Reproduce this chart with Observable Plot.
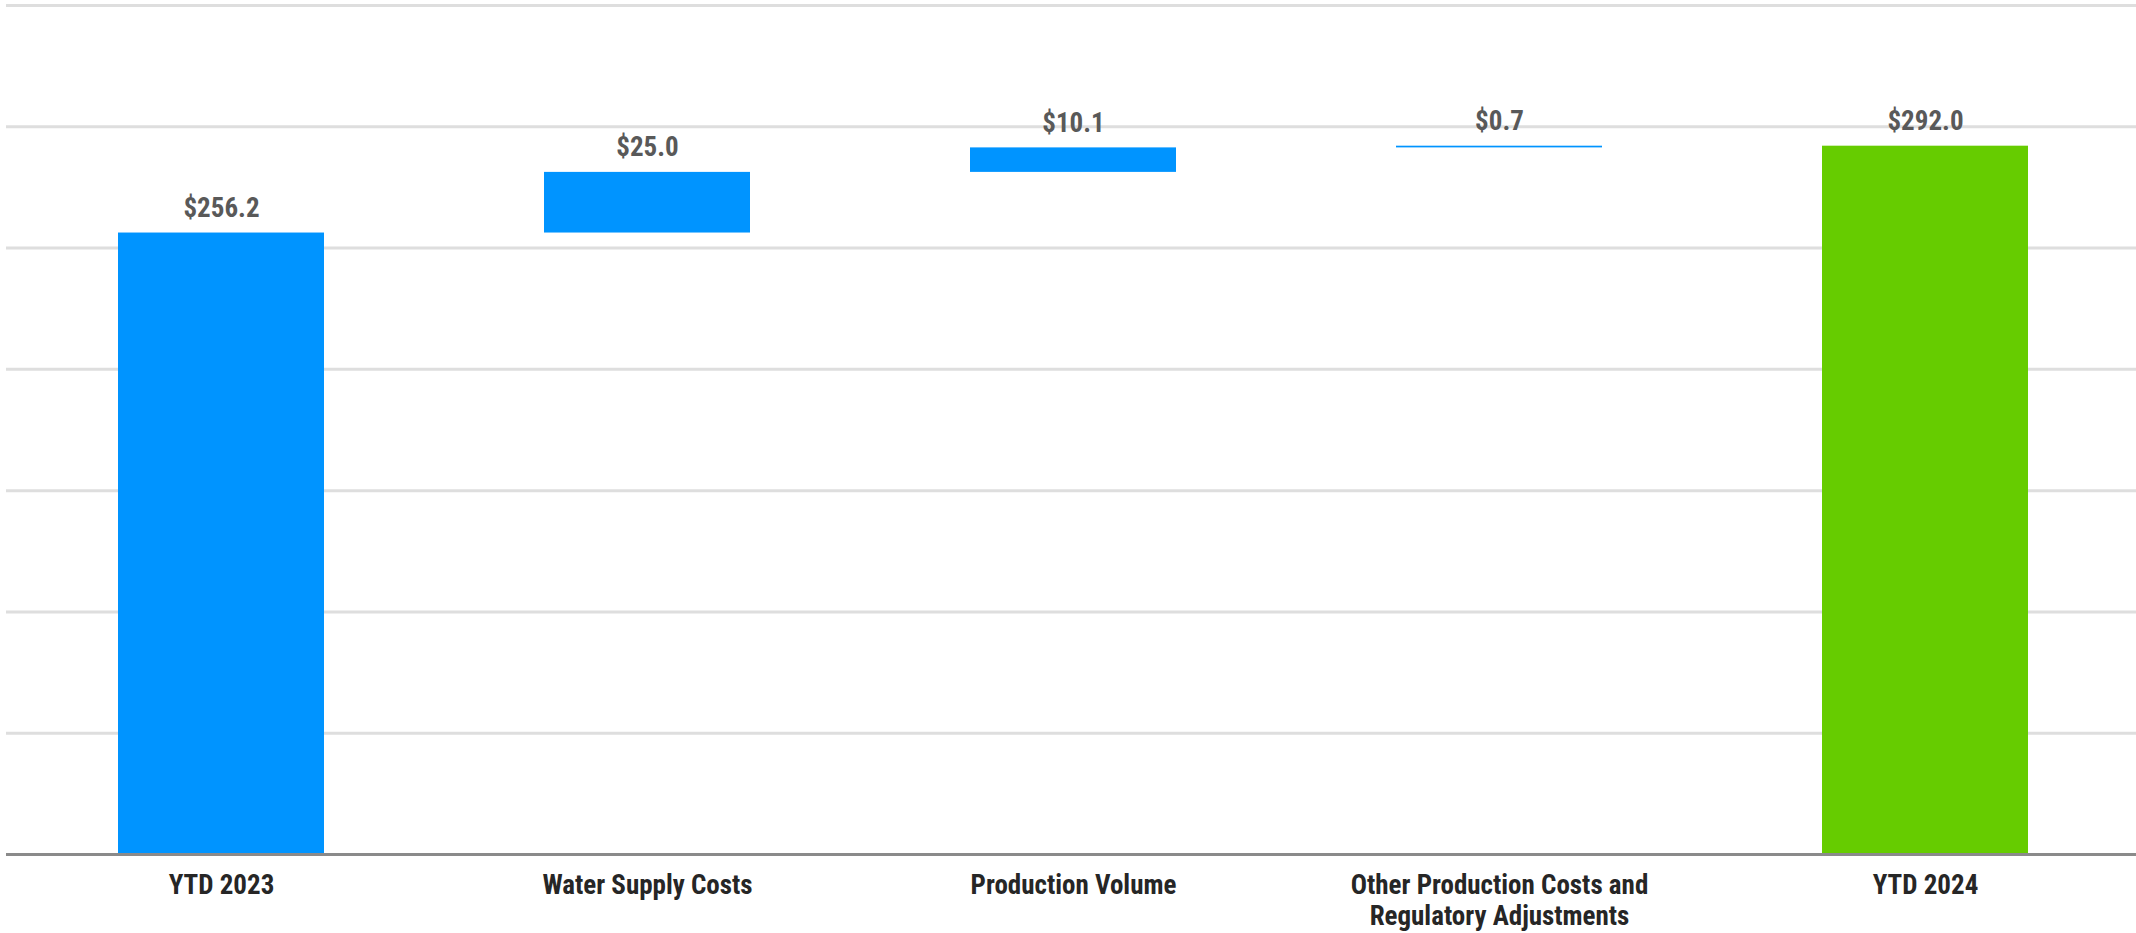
<!DOCTYPE html>
<html>
<head>
<meta charset="utf-8">
<script src="https://cdn.jsdelivr.net/npm/d3@7"></script>
<script src="https://cdn.jsdelivr.net/npm/@observablehq/plot@0.6"></script>
<style>
  html, body { margin: 0; padding: 0; background: #ffffff; }
  #chart svg { display: block; }
</style>
</head>
<body>
<div id="chart"></div>
<script>
// Data
const categories = ["YTD 2023", "Water Supply Costs", "Production Volume", "Other Production Costs and\nRegulatory Adjustments", "YTD 2024"];
const values = [256.2, 25.0, 10.1, 0.7, 292.0];
const kinds = ["total", "delta", "delta", "delta", "total"];
const valueLabels = ["$256.2", "$25.0", "$10.1", "$0.7", "$292.0"];
const gridTicks = [50, 100, 150, 200, 250, 300, 350];

// Build waterfall table
let running = 0;
const rows = categories.map((c, i) => {
  let y1, y2;
  if (kinds[i] === "total") { y1 = 0; y2 = values[i]; running = values[i]; }
  else { y1 = running; y2 = running + values[i]; running = y2; }
  return { category: c, y1, y2, kind: kinds[i], label: valueLabels[i], year: c === "YTD 2024" };
});

const labelFont = "'Liberation Sans Narrow', 'Arial Narrow', 'Roboto Condensed', 'DejaVu Sans Condensed', sans-serif";

const chart = Plot.plot({
  width: 2136,
  height: 933,
  marginLeft: 6,
  marginRight: -3,
  marginTop: 5,
  marginBottom: 79,
  style: { background: "#ffffff", fontFamily: labelFont, overflow: "hidden" },
  x: { domain: categories, paddingInner: 0.517, paddingOuter: 0.2585, axis: null },
  y: { domain: [0, 350], axis: null },
  marks: [
    Plot.ruleY(gridTicks, { stroke: "#dedede", strokeWidth: 3 }),
    Plot.barY(rows, {
      x: "category", y1: "y1", y2: "y2",
      fill: d => d.year ? "#66cc00" : "#0094ff"
    }),
    Plot.ruleY([0], { stroke: "#8a8a8a", strokeWidth: 3 }),
    Plot.text(rows, {
      x: "category", y: "y2", text: "label",
      lineAnchor: "bottom", dy: -16,
      fontSize: 27, fontWeight: "bold", fill: "#595959",
      fontFamily: labelFont
    }),
    Plot.text(categories, {
      x: d => d, text: d => d,
      frameAnchor: "bottom", lineAnchor: "top", dy: 17,
      lineHeight: 1.15,
      fontSize: 27, fontWeight: "bold", fill: "#262626",
      fontFamily: labelFont
    })
  ]
});

document.getElementById("chart").appendChild(chart);
</script>
</body>
</html>
